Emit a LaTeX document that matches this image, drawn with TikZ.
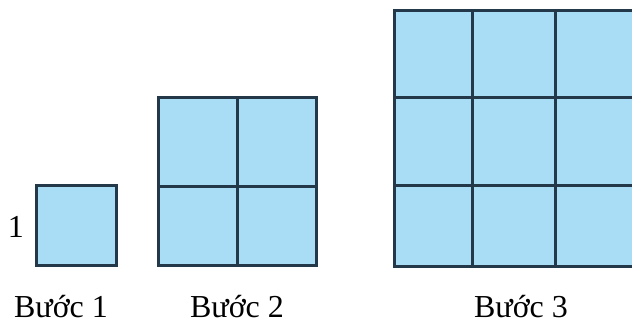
\documentclass[tikz,border=0pt]{standalone}
\usepackage{fontspec}
\setmainfont{Liberation Serif}
\definecolor{cellfill}{HTML}{A8DDF5}
\definecolor{cellline}{HTML}{233848}
\tikzset{cell/.style={fill=cellfill,draw=cellline,line width=3pt},
  steplabel/.style={anchor=base,inner sep=0pt,font=\fontsize{32}{36}\selectfont}}

\begin{document}
\begin{tikzpicture}[x=1pt,y=-1pt]
\useasboundingbox (0,0) rectangle (632,323);
% Buoc 1
\draw[cell] (36,186) rectangle (116,266);
\node[steplabel] (side) at (16,238) {1};
% Buoc 2
\draw[cell] (158,98) rectangle (316,266);
\draw[cellline,line width=3pt] (237,98) -- (237,266);
\draw[cellline,line width=3pt] (158,187) -- (316,187);
% Buoc 3
\begin{scope}
\clip (0,0) rectangle (632,323);
\draw[cell] (394,11) rectangle (638,267);
\foreach \x in {472,555} {
    \draw[cellline,line width=3pt] (\x,11) -- (\x,267);
}
\foreach \y in {98,186} {
    \draw[cellline,line width=3pt] (394,\y) -- (638,\y);
}
\end{scope}
\node[steplabel] (buoc1) at (61,317) {Bước 1};
\node[steplabel] (buoc2) at (237,317) {Bước 2};
\node[steplabel] (buoc3) at (521,317) {Bước 3};
\end{tikzpicture}
\end{document}
